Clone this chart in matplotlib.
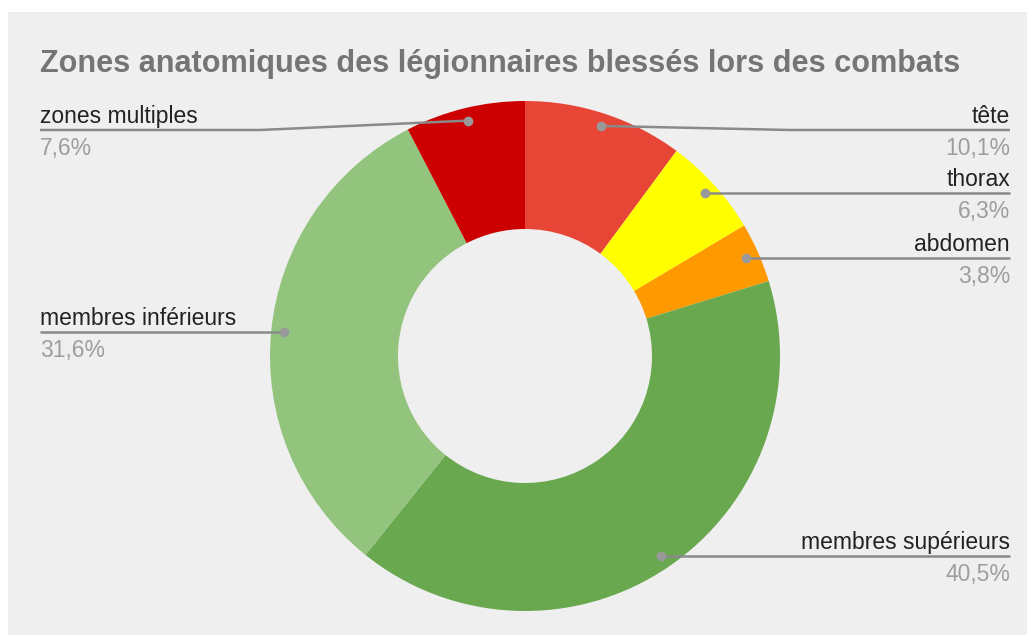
import numpy as np
import matplotlib.pyplot as plt
from matplotlib.patches import Rectangle

plt.rcParams['font.family'] = ['Liberation Sans', 'DejaVu Sans']

# data (counts of wounded per zone, total 79)
zones = ["tête", "thorax", "abdomen", "membres supérieurs",
         "membres inférieurs", "zones multiples"]
counts = [8, 5, 3, 32, 25, 6]
colors = ["#e74536", "#ffff00", "#ff9900", "#6aa84f", "#93c47d", "#cc0000"]
title = "Zones anatomiques des légionnaires blessés lors des combats"

W, H = 1027, 635
fig = plt.figure(figsize=(W / 100, H / 100), dpi=100)
fig.patch.set_facecolor("white")
ax = fig.add_axes([0, 0, 1, 1])

# gray chart panel
ax.add_patch(Rectangle((8, -5), W, H - 7, facecolor="#efefef",
                       edgecolor="none", zorder=0, clip_on=False))

cx, cy, R = 525, H - 356, 255
wedges, _ = ax.pie(counts, colors=colors, startangle=90, counterclock=False,
                   radius=R, center=(cx, cy),
                   wedgeprops=dict(width=R - 127, linewidth=0))

total = sum(counts)
line_col = "#8a8a8a"
for w, name, n in zip(wedges, zones, counts):
    ang = np.deg2rad((w.theta1 + w.theta2) / 2)
    dx, dy = cx + 0.95 * R * np.cos(ang), cy + 0.95 * R * np.sin(ang)
    ly = min(dy, H - 130)
    right = dx > cx
    if right:
        bend, end, ha = cx + R + 10, 1010, "right"
    else:
        bend, end, ha = cx - R - 10, 40, "left"
    ax.plot([dx, bend, end], [dy, ly, ly], color=line_col, lw=1.8,
            solid_capstyle="butt", zorder=3)
    ax.plot(dx, dy, "o", color="#999999", ms=7, mec="none", zorder=4)
    pct = "{:.1f}%".format(100 * n / total).replace(".", ",")
    ax.text(end, ly + 7, name, ha=ha, va="baseline", fontsize=16.5,
            color="#222222")
    ax.text(end, ly - 25, pct, ha=ha, va="baseline", fontsize=16.5,
            color="#9e9e9e")

ax.text(40, H - 72, title, ha="left", va="baseline", fontsize=22.1,
        fontweight="bold", color="#757575")

ax.set_xlim(0, W)
ax.set_ylim(0, H)
ax.set_aspect("auto")
ax.axis("off")

fig.savefig("out.png", dpi=100, facecolor=fig.get_facecolor())
